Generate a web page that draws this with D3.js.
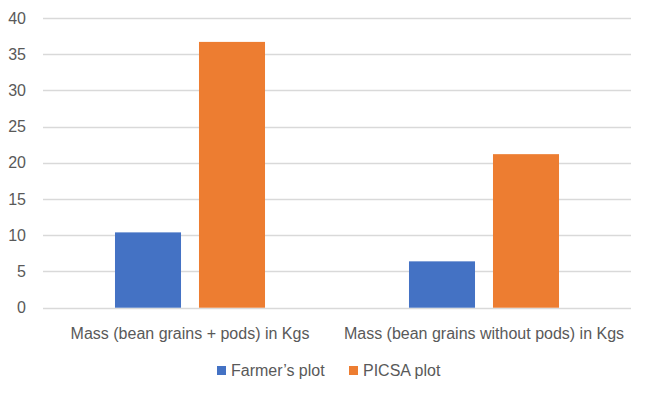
<!DOCTYPE html>
<html>
<head>
<meta charset="utf-8">
<script src="https://cdn.jsdelivr.net/npm/d3@7"></script>
<style>
  body { margin: 0; background: #fff; }
  text { font-family: 'Liberation Sans', Arial, sans-serif; fill: #595959; font-size: 16px; }
</style>
</head>
<body>
<svg id="chart" width="646" height="397"></svg>
<script>
// data
var categories = ['Mass (bean grains + pods) in Kgs', 'Mass (bean grains without pods) in Kgs'];
var series = ['Farmer\u2019s plot', 'PICSA plot'];
var farmerValues = [10.4, 6.4];
var picsaValues = [36.7, 21.2];
var yTicks = [0, 5, 10, 15, 20, 25, 30, 35, 40];
var colors = ['#4472c4', '#ed7d31'];

var W = 646, H = 397;
var M = { left: 43, right: 15, top: 18, bottom: 89 };
var svg = d3.select('#chart');

var x0 = d3.scaleBand()
  .domain(categories)
  .range([M.left, W - M.right])
  .padding(0);
var x1 = d3.scaleBand()
  .domain(series)
  .range([0, x0.bandwidth()])
  .paddingInner(0.214)
  .paddingOuter(0.857);
var y = d3.scaleLinear()
  .domain([0, 40])
  .range([H - M.bottom - 0.3, M.top]);

// gridlines
svg.append('g')
  .selectAll('line')
  .data(yTicks)
  .enter()
  .append('line')
  .attr('x1', M.left)
  .attr('x2', W - M.right)
  .attr('y1', function(d) { return Math.round(y(d)) + 0.5; })
  .attr('y2', function(d) { return Math.round(y(d)) + 0.5; })
  .style('stroke', '#d9d9d9')
  .style('stroke-width', 1.3);

// y tick labels
svg.append('g')
  .selectAll('text')
  .data(yTicks)
  .enter()
  .append('text')
  .attr('x', 26)
  .attr('y', function(d) { return y(d); })
  .attr('dy', '0.35em')
  .attr('text-anchor', 'end')
  .text(function(d) { return d; });

var rows = categories.map(function(c, i) {
  return { cat: c, vals: [farmerValues[i], picsaValues[i]] };
});

var groups = svg.append('g')
  .selectAll('g')
  .data(rows)
  .enter()
  .append('g')
  .attr('transform', function(d) { return 'translate(' + x0(d.cat) + ',0)'; });

groups.selectAll('rect')
  .data(function(d) { return d.vals.map(function(v, j) { return { s: series[j], v: v, j: j }; }); })
  .enter()
  .append('rect')
  .attr('x', function(d) { return x1(d.s); })
  .attr('width', x1.bandwidth())
  .attr('y', function(d) { return y(d.v); })
  .attr('height', function(d) { return y(0) - y(d.v); })
  .style('fill', function(d) { return colors[d.j]; });

// category labels
svg.append('g')
  .selectAll('text')
  .data(categories)
  .enter()
  .append('text')
  .attr('x', function(d) { return x0(d) + x0.bandwidth() / 2; })
  .attr('y', 333)
  .attr('dy', '0.35em')
  .attr('text-anchor', 'middle')
  .text(function(d) { return d; });

// legend
var legendX = [217, 349];
var leg = svg.append('g')
  .selectAll('g')
  .data(series)
  .enter()
  .append('g')
  .attr('transform', function(d, i) { return 'translate(' + legendX[i] + ',366)'; });
leg.append('rect')
  .attr('width', 9)
  .attr('height', 9)
  .style('fill', function(d, i) { return colors[i]; });
leg.append('text')
  .attr('x', 14)
  .attr('y', 4.5)
  .attr('dy', '0.35em')
  .text(function(d) { return d; });
</script>
</body>
</html>
